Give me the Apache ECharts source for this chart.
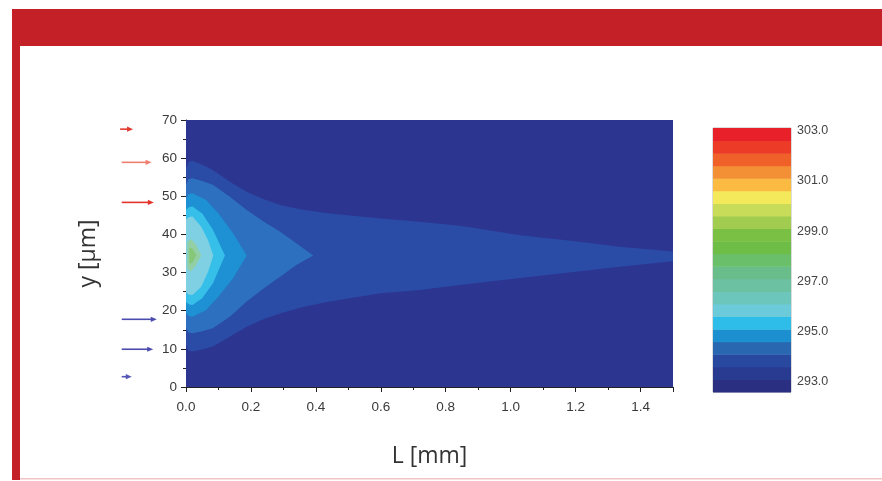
<!DOCTYPE html>
<html><head><meta charset="utf-8">
<script src="https://cdn.jsdelivr.net/npm/echarts@6/dist/echarts.min.js"></script>
<style>html,body{margin:0;padding:0;background:#fff}#c{width:882px;height:481px}</style>
</head><body><div id="c"></div>
<script>
// ---- axis settings ----
const xMin = 0, xMax = 1.5;
const yMin = 0, yMax = 70;
const xLabelValues = [0, 0.2, 0.4, 0.6, 0.8, 1.0, 1.2, 1.4];
const cbMin = 292.6, cbMax = 303.1;
const cbLabelValues = [293, 295, 297, 299, 301, 303];

// ---- colour bar bands (0.5 K each, bottom to top) ----
const cbBandLow = [292.6,293.1,293.6,294.1,294.6,295.1,295.6,296.1,296.6,297.1,297.6,298.1,298.6,299.1,299.6,300.1,300.6,301.1,301.6,302.1,302.6];
const cbBandColors = ['#2b2f82','#283b91','#2949a1','#2a67b1','#1b8fd0','#2ebde9','#6ccbdb','#6cc6bb','#6cc1a2','#69bd8a','#6abf6a','#6dbd46','#79c045','#a1cc50','#c8dc5a','#f4e85b','#fbba42','#f39036','#f0612a','#ec3b26','#e8202a'];

// ---- contour regions: [L mm, y um] ----
const level1Upper = [[0,70],[1.5,70]];
const level1Lower = [[0,0],[1.5,0]];
const level2Upper = [[0,57.5],[0.008,59],[0.02,59.3],[0.05,58.3],[0.083,56.9],[0.135,53.8],[0.187,51.2],[0.24,49.2],[0.29,47.7],[0.36,46.5],[0.443,45.5],[0.6,44.2],[0.72,43.3],[0.85,42.2],[1.03,39.8],[1.2,38.2],[1.336,36.8],[1.5,35.5]];
const level2Lower = [[0,11],[0.008,9.6],[0.02,9.3],[0.05,9.8],[0.083,10.6],[0.135,13.2],[0.187,15.8],[0.24,17.8],[0.29,19.3],[0.36,21],[0.443,22.4],[0.6,24.6],[0.72,25.4],[0.85,26.8],[1.03,28.6],[1.2,30.2],[1.336,31.5],[1.5,33]];
const level3Upper = [[0,53],[0.008,54.5],[0.02,54.7],[0.05,54],[0.083,53],[0.135,49.9],[0.187,46.4],[0.24,43.3],[0.29,40.7],[0.34,37.7],[0.392,34.5]];
const level3Lower = [[0,15.5],[0.008,14.3],[0.02,14.1],[0.05,14.6],[0.083,15.4],[0.135,18.4],[0.187,22.4],[0.24,25.9],[0.29,28.9],[0.34,32],[0.392,34.5]];
const level4Upper = [[0,49.5],[0.008,50.6],[0.02,50.8],[0.062,49],[0.1,45.5],[0.145,40.3],[0.187,34.5]];
const level4Lower = [[0,19.5],[0.008,18.6],[0.02,18.4],[0.062,20.2],[0.1,23.7],[0.145,28.5],[0.187,34.5]];
const level5Upper = [[0,46.5],[0.01,47.2],[0.02,47.3],[0.05,45.5],[0.083,41.2],[0.12,34.5]];
const level5Lower = [[0,22.3],[0.01,21.6],[0.02,21.5],[0.05,23.3],[0.083,27.2],[0.12,34.5]];
const level6Upper = [[0,44],[0.01,44.6],[0.02,44.7],[0.047,42],[0.068,38.5],[0.084,34.5]];
const level6Lower = [[0,24.8],[0.01,24.2],[0.02,24.1],[0.047,26.3],[0.068,30.2],[0.084,34.5]];
const level7Upper = [[0.004,38],[0.015,38.8],[0.03,37.5],[0.047,34.5]];
const level7Lower = [[0.004,31],[0.015,30.3],[0.03,31.8],[0.047,34.5]];
const level8Upper = [[0.01,36.5],[0.02,36.3],[0.032,34.5]];
const level8Lower = [[0.01,32.3],[0.02,32.6],[0.032,34.5]];
const levelColors = ['#2c3590','#2a4ba6','#2c70bf','#1d91d3','#36bfe9','#80d0e3','#93cfa6','#86c878'];

// ---- inlet arrows (L start, L end, y) ----
const arrowStart = [-0.203,-0.198,-0.198,-0.198,-0.198,-0.198];
const arrowEnd   = [-0.163,-0.106,-0.099,-0.090,-0.101,-0.167];
const arrowY     = [67.6,58.9,48.4,17.75,9.9,2.7];
const arrowColors = ['#e23a2e','#ef8070','#e2342b','#4c4cae','#4c4cae','#5656b6'];

const contours = [
  [level1Upper, level1Lower], [level2Upper, level2Lower], [level3Upper, level3Lower],
  [level4Upper, level4Lower], [level5Upper, level5Lower], [level6Upper, level6Lower],
  [level7Upper, level7Lower], [level8Upper, level8Lower]
];

const chart = echarts.init(document.getElementById('c'), null, {renderer: 'canvas'});
const tickFont = {fontFamily: 'Liberation Sans', fontSize: 13.5, color: '#3a3a3a'};

chart.setOption({
  animation: false,
  backgroundColor: '#ffffff',
  graphic: [
    {type: 'rect', shape: {x: 12, y: 9, width: 870, height: 37}, style: {fill: '#c42028'}},
    {type: 'rect', shape: {x: 12, y: 46, width: 8, height: 434}, style: {fill: '#c42028'}},
    {type: 'rect', shape: {x: 20, y: 478, width: 862, height: 1.5}, style: {fill: '#f2c4c6'}}
  ],
  grid: [
    {left: 186, top: 120, width: 487, height: 267},
    {left: 713, top: 128, width: 78, height: 264, show: true, borderColor: '#b8b8b8', borderWidth: 1}
  ],
  xAxis: [
    {gridIndex: 0, type: 'value', min: xMin, max: xMax, interval: 0.2,
     name: 'L [mm]', nameLocation: 'middle', nameGap: 58,
     nameTextStyle: {fontFamily: 'Open Sans', fontSize: 23, color: '#333'},
     axisLine: {show: true, lineStyle: {color: '#222', width: 1}},
     axisTick: {show: true, inside: false, length: 5, lineStyle: {color: '#222'}},
     minorTick: {show: true, splitNumber: 2, length: 3, lineStyle: {color: '#222'}},
     axisLabel: Object.assign({margin: 13, showMaxLabel: false, formatter: v => v.toFixed(1)}, tickFont),
     splitLine: {show: false}, minorSplitLine: {show: false}},
    {gridIndex: 1, type: 'value', min: 0, max: 1, show: false}
  ],
  yAxis: [
    {gridIndex: 0, type: 'value', min: yMin, max: yMax, interval: 10,
     name: 'y [µm]', nameLocation: 'middle', nameGap: 86, nameRotate: 90,
     nameTextStyle: {fontFamily: 'Open Sans', fontSize: 23, color: '#333'},
     axisLine: {show: true, lineStyle: {color: '#222', width: 1}},
     axisTick: {show: true, inside: false, length: 5, lineStyle: {color: '#222'}},
     minorTick: {show: true, splitNumber: 2, length: 3, lineStyle: {color: '#222'}},
     axisLabel: Object.assign({margin: 9}, tickFont),
     splitLine: {show: false}, minorSplitLine: {show: false}},
    {gridIndex: 1, type: 'value', min: cbMin, max: cbMax, position: 'right',
     axisLine: {show: false}, axisTick: {show: false}, splitLine: {show: false},
     axisLabel: Object.assign({margin: 6, customValues: cbLabelValues, formatter: v => v.toFixed(1)},
       {fontFamily: 'Liberation Sans', fontSize: 12.5, color: '#444'})}
  ],
  series: [
    {
      type: 'custom', xAxisIndex: 0, yAxisIndex: 0, clip: true,
      data: contours.map((c, i) => [c[0][0][0], c[0][0][1], i]),
      renderItem: function (params, api) {
        const i = params.dataIndex;
        const up = contours[i][0], lo = contours[i][1];
        const pts = up.concat(lo.slice().reverse()).map(p => api.coord(p));
        return {type: 'polygon', shape: {points: pts}, style: {fill: levelColors[i]}};
      }
    },
    {
      type: 'custom', xAxisIndex: 0, yAxisIndex: 0, clip: false,
      data: arrowY.map((y, i) => [arrowStart[i], y, arrowEnd[i]]),
      renderItem: function (params, api) {
        const i = params.dataIndex;
        const a = api.coord([api.value(0), api.value(1)]);
        const b = api.coord([api.value(2), api.value(1)]);
        const col = arrowColors[i];
        return {type: 'group', children: [
          {type: 'line', shape: {x1: a[0], y1: a[1], x2: b[0] - 5, y2: b[1]}, style: {stroke: col, lineWidth: 1.6}},
          {type: 'polygon', shape: {points: [[b[0] - 6, b[1] - 2.6], [b[0], b[1]], [b[0] - 6, b[1] + 2.6]]}, style: {fill: col}}
        ]};
      }
    },
    {
      type: 'custom', xAxisIndex: 1, yAxisIndex: 1,
      data: cbBandLow.map((lo, i) => [0, lo, lo + 0.5]),
      renderItem: function (params, api) {
        const i = params.dataIndex;
        const p1 = api.coord([0, api.value(2)]);
        const p2 = api.coord([1, api.value(1)]);
        return {type: 'rect', shape: {x: p1[0], y: p1[1], width: p2[0] - p1[0], height: p2[1] - p1[1] + 0.5},
                style: {fill: cbBandColors[i]}};
      }
    }
  ]
});
</script></body></html>
